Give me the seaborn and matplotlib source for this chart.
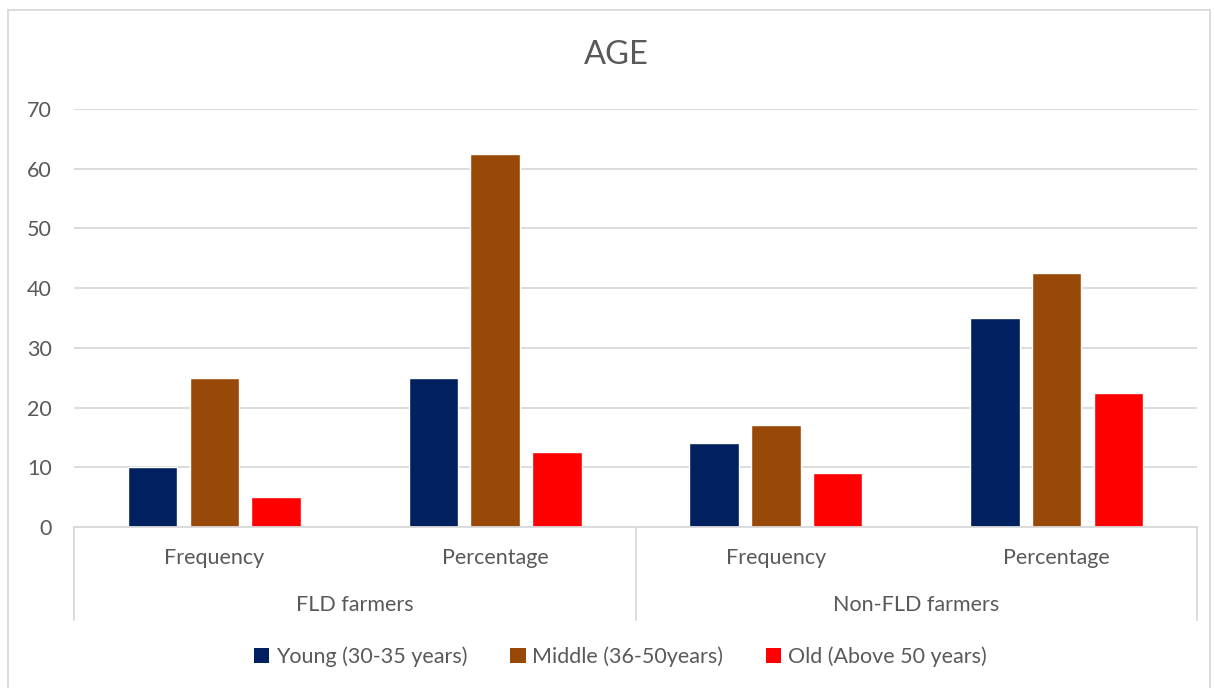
import matplotlib
matplotlib.use("Agg")
import matplotlib.pyplot as plt
from matplotlib.patches import Rectangle, Patch
import seaborn as sns
import pandas as pd

# Data
groups = ["FLD farmers", "FLD farmers", "Non-FLD farmers", "Non-FLD farmers"]
measures = ["Frequency", "Percentage", "Frequency", "Percentage"]
age_classes = ["Young (30-35 years)", "Middle (36-50years)", "Old (Above 50 years)"]
young = [10, 25, 14, 35]
middle = [25, 62.5, 17, 42.5]
old = [5, 12.5, 9, 22.5]
y_ticks = [0, 10, 20, 30, 40, 50, 60, 70]

colors = ["#002060", "#984807", "#FF0000"]
text_color = "#595959"
grid_color = "#D9D9D9"
fs = 15.5

keys = [f"{g}|{m}" for g, m in zip(groups, measures)]
rows = []
for cls, vals in zip(age_classes, [young, middle, old]):
    for k, v in zip(keys, vals):
        rows.append({"category": k, "age": cls, "value": v})
df = pd.DataFrame(rows)

sns.set_theme(style="white")
plt.rcParams["font.family"] = ["Lato", "DejaVu Sans"]

fig = plt.figure(figsize=(12.14, 6.88), dpi=100)
ax = fig.add_axes([0.061, 0.234, 0.925, 0.6076])

sns.barplot(data=df, x="category", y="value", hue="age", order=keys,
            hue_order=age_classes, palette=colors, width=0.66, gap=0.2,
            saturation=1, legend=False, ax=ax)

ax.set_ylim(0, 70)
ax.set_xlim(-0.5, len(keys) - 0.5)
ax.set_yticks(y_ticks)
ax.set_yticklabels([str(t) for t in y_ticks], color=text_color, fontsize=fs)
ax.tick_params(axis="y", length=0, pad=16)
ax.tick_params(axis="x", length=0)
ax.set_xticks([])
ax.set_xlabel("")
ax.set_ylabel("")
ax.yaxis.grid(True, color=grid_color, linewidth=1.3)
ax.set_axisbelow(True)
for side in ["left", "right", "top"]:
    ax.spines[side].set_visible(False)
ax.spines["bottom"].set_color(grid_color)
ax.spines["bottom"].set_linewidth(1.3)

# Two-level category axis
trans = ax.get_xaxis_transform()
for i, m in enumerate(measures):
    ax.text(i, -0.074, m, transform=trans, ha="center", va="center",
            fontsize=fs, color=text_color)
unique_groups = list(dict.fromkeys(groups))
start = -0.5
for g in unique_groups:
    n = groups.count(g)
    ax.text(start + n / 2, -0.186, g, transform=trans, ha="center", va="center",
            fontsize=fs, color=text_color)
    start += n
bounds = [-0.5]
for g in unique_groups:
    bounds.append(bounds[-1] + groups.count(g))
for b in bounds:
    ax.plot([b, b], [0, -0.222], transform=trans, color=grid_color,
            linewidth=1.3, clip_on=False)

# Title
fig.text(0.508, 1 - 55 / 688, "AGE", ha="center", va="center",
         fontsize=23.5, color=text_color)

# Legend
handles = [Patch(facecolor=c, edgecolor="none") for c in colors]
fig.legend(handles, age_classes, loc="center", ncol=3,
           bbox_to_anchor=(0.511, 1 - 657 / 688), frameon=False,
           fontsize=fs, labelcolor=text_color, handlelength=0.7,
           handleheight=0.7, handletextpad=0.3, columnspacing=2.0)

# Chart area border
fig.patches.append(Rectangle((8 / 1214, -0.05), 1202 / 1214, 1.05 - 10 / 688,
                             transform=fig.transFigure, fill=False,
                             edgecolor=grid_color, linewidth=1.3))

fig.savefig("out.png", dpi=100, facecolor="white")
